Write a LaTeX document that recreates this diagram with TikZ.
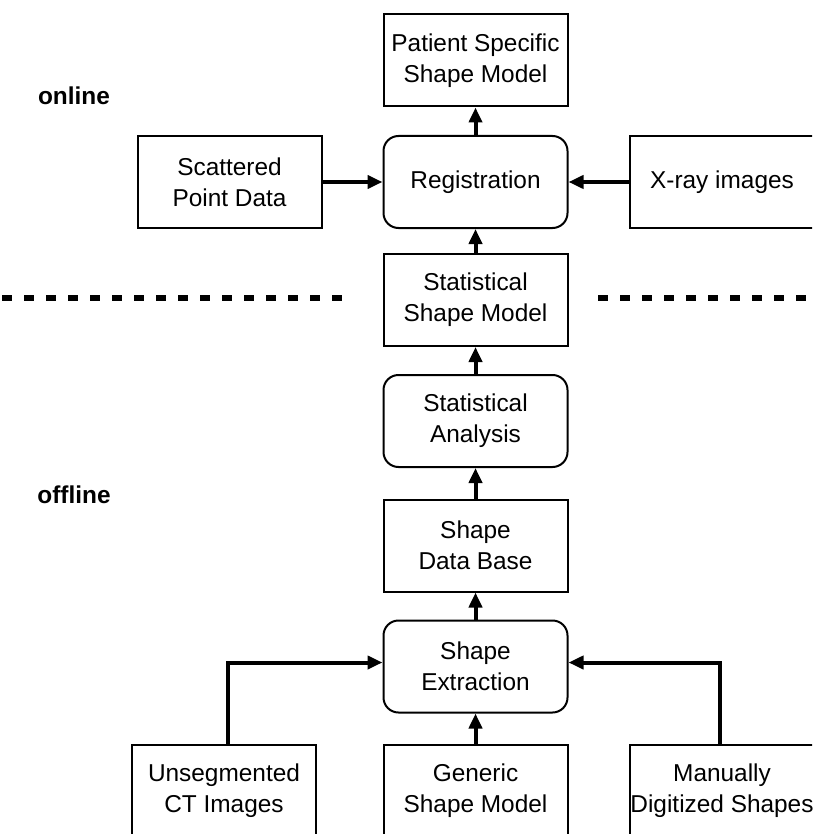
\documentclass[tikz,border=0pt]{standalone}
\usepackage{fontspec}
\setmainfont{Liberation Sans}
\usetikzlibrary{arrows.meta}
\begin{document}
\begin{tikzpicture}[x=1pt,y=-1pt,
  boxbase/.style={draw, line width=2pt, minimum width=184pt, minimum height=92pt,
    align=center, inner sep=0pt, font=\fontsize{24.4}{31}\selectfont},
  sqbox/.style={boxbase},
  rbox/.style={boxbase, rounded corners=15pt},
  flow/.style={line width=4pt, -{Triangle[length=15pt,width=13pt]}},
  sepline/.style={line width=6pt, dash pattern=on 10pt off 12pt},
  tag/.style={font=\fontsize{24.4}{31}\selectfont\bfseries, inner sep=0pt}]
\useasboundingbox (0,0) rectangle (812,834);
\clip (0,0) rectangle (812,834);

\node[sqbox] (psm) at (475.5,60.5) {Patient Specific\\Shape Model};
\node[rbox]  (reg) at (475.5,182) {Registration};
\node[sqbox] (spd) at (229.5,182) {Scattered\\Point Data};
\node[sqbox] (xray) at (722,182) {X-ray images};
\node[sqbox] (ssm) at (475.5,300) {Statistical\\Shape Model};
\node[rbox]  (sa)  at (475.5,421) {Statistical\\Analysis};
\node[sqbox] (sdb) at (475.5,545.5) {Shape\\Data Base};
\node[rbox]  (se)  at (475.5,666.5) {Shape\\Extraction};
\node[sqbox] (ct)  at (224,791) {Unsegmented\\CT Images};
\node[sqbox] (gsm) at (475.5,791) {Generic\\Shape Model};
\node[sqbox] (mds) at (722,791) {Manually\\Digitized Shapes};

\node[tag] (online) at (74,95.5) {online};
\node[tag] (offline) at (74,494.5) {offline};

\draw[flow] (reg) -- (psm);
\draw[flow] (spd) -- (reg);
\draw[flow] (xray) -- (reg);
\draw[flow] (ssm) -- (reg);
\draw[flow] (sa) -- (ssm);
\draw[flow] (sdb) -- (sa);
\draw[flow] (se) -- (sdb);
\draw[flow] (gsm) -- (se);
\draw[flow] ([xshift=4pt]ct.north) |- ([yshift=4pt]se.west);
\draw[flow] ([xshift=-2pt]mds.north) |- ([yshift=4pt]se.east);

\coordinate (dl1) at (2,298);
\coordinate (dl2) at (352,298);
\coordinate (dr1) at (598,298);
\coordinate (dr2) at (812,298);
\draw[sepline] (dl1) -- (dl2);
\draw[sepline] (dr1) -- (dr2);
\end{tikzpicture}
\end{document}
